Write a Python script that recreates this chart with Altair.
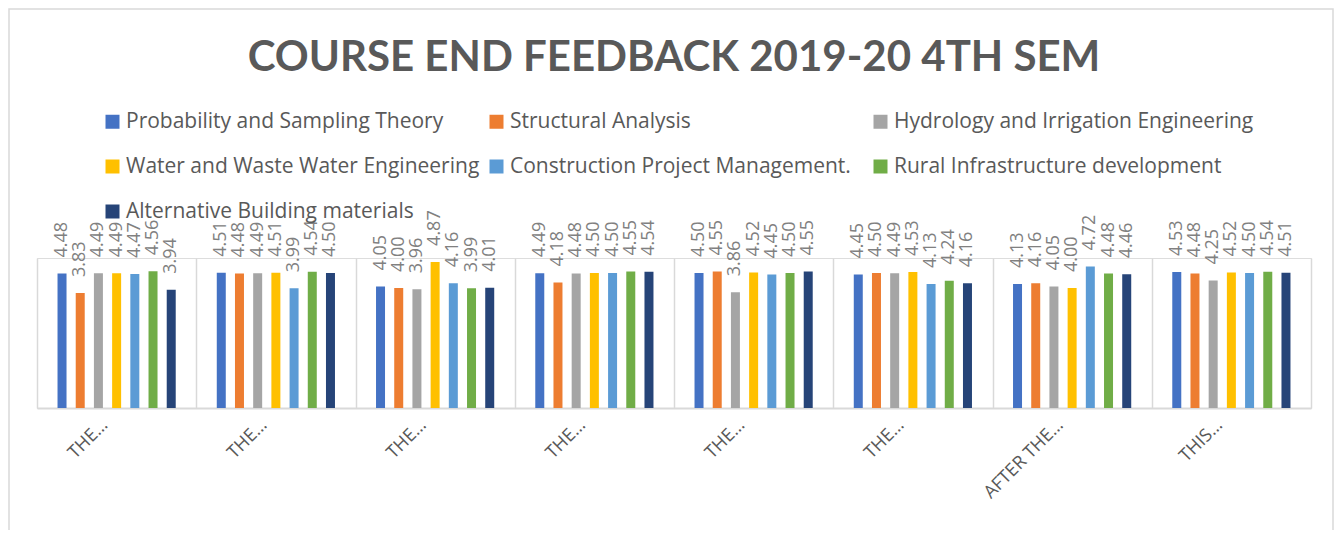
import json
import altair as alt
import pandas as pd

title_text = "COURSE END FEEDBACK 2019-20 4TH SEM"
categories = ["THE…", "THE…", "THE…", "THE…", "THE…", "THE…", "AFTER THE…", "THIS…"]
series = [
    "Probability and Sampling Theory",
    "Structural Analysis",
    "Hydrology and Irrigation Engineering",
    "Water and Waste Water Engineering",
    "Construction Project Management.",
    "Rural Infrastructure development",
    "Alternative Building materials",
]
probability = [4.48, 4.51, 4.05, 4.49, 4.50, 4.45, 4.13, 4.53]
structural = [3.83, 4.48, 4.00, 4.18, 4.55, 4.50, 4.16, 4.48]
hydrology = [4.49, 4.49, 3.96, 4.48, 3.86, 4.49, 4.05, 4.25]
water = [4.49, 4.51, 4.87, 4.50, 4.52, 4.53, 4.00, 4.52]
construction = [4.47, 3.99, 4.16, 4.50, 4.45, 4.13, 4.72, 4.50]
rural = [4.56, 4.54, 3.99, 4.55, 4.50, 4.24, 4.48, 4.54]
alternative = [3.94, 4.50, 4.01, 4.54, 4.55, 4.16, 4.46, 4.51]
colors = ["#4472C4", "#ED7D31", "#A5A5A5", "#FFC000", "#5B9BD5", "#70AD47", "#264478"]

values = [probability, structural, hydrology, water, construction, rural, alternative]
rows = []
for s_name, vals in zip(series, values):
    for i, v in enumerate(vals):
        rows.append({"cat": i, "series": s_name, "value": v, "label": f"{v:.2f}"})
df = pd.DataFrame(rows)

label_expr = json.dumps(categories, ensure_ascii=False) + "[datum.value]"

base = alt.Chart(df).encode(
    x=alt.X(
        "cat:N",
        sort=None,
        scale=alt.Scale(paddingInner=0, paddingOuter=0),
        axis=alt.Axis(
            title=None,
            labelExpr=label_expr,
            labelAngle=-45,
            labelAlign="right",
            labelBaseline="middle",
            labelFontSize=18,
            labelFont="Open Sans",
            labelColor="#595959",
            labelPadding=14,
            labelOffset=-12,
            tickBand="extent",
            grid=True,
            gridColor="#d9d9d9",
            gridWidth=1.5,
            ticks=False,
            domainColor="#d9d9d9",
            domainWidth=2,
        ),
    ),
    xOffset=alt.XOffset("series:N", sort=series, scale=alt.Scale(paddingInner=0.25, paddingOuter=1)),
    y=alt.Y("value:Q", scale=alt.Scale(domain=[0, 5]), axis=None),
)

bars = base.mark_bar(width=9).encode(
    color=alt.Color(
        "series:N",
        sort=series,
        scale=alt.Scale(domain=series, range=colors),
        legend=alt.Legend(
            title=None,
            orient="none",
            direction="horizontal",
            legendX=65,
            legendY=-147,
            columns=3,
            gridAlign="all",
            columnPadding=0,
            rowPadding=23,
            symbolType="square",
            symbolSize=196,
            symbolStrokeWidth=0,
            symbolOpacity=1,
            labelFontSize=21,
            labelFont="Open Sans",
            labelColor="#595959",
            labelLimit=0,
            labelOffset=3,
        ),
    )
)

labels = base.mark_text(
    angle=270, align="left", baseline="middle", dx=16, fontSize=18, font="Open Sans", color="#808080"
).encode(text="label:N")

frame = alt.Chart(pd.DataFrame({"k": [0]})).mark_rect(
    fill="white", fillOpacity=0, stroke="#d9d9d9", strokeWidth=1.5
).encode(x=alt.value(-28), x2=alt.value(1296), y=alt.value(-249), y2=alt.value(300))

chart = (
    alt.layer(frame, bars, labels)
    .properties(
        width=1274,
        height=150,
        title=alt.TitleParams(
            title_text,
            anchor="middle",
            fontSize=42,
            font="Lato",
            fontWeight="bold",
            color="#595959",
            offset=-72,
        ),
        autosize="none",
        padding={"left": 29, "top": 250, "right": 24, "bottom": 122},
    )
    .configure_view(stroke=None)
    .configure(background="white")
)

chart.save("out.html", embed_options={"renderer": "svg", "actions": False})
